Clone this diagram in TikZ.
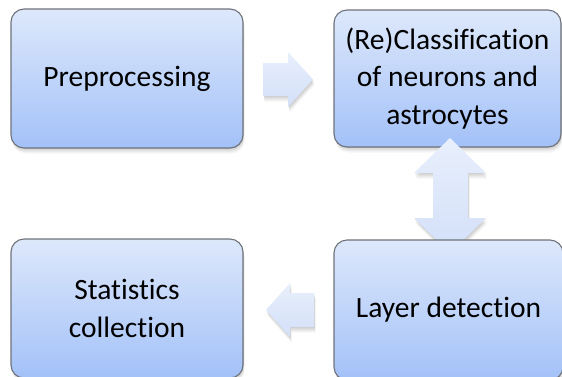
\documentclass[tikz,border=0pt]{standalone}
\usepackage{fontspec}
\setmainfont[Ligatures={NoCommon}]{Carlito}
\definecolor{boxtop}{RGB}{221,232,251}
\definecolor{boxbot}{RGB}{163,193,248}
\definecolor{boxline}{RGB}{110,114,122}
\definecolor{arrtop}{RGB}{232,239,252}
\definecolor{arrbot}{RGB}{211,224,249}
\tikzset{
  softshadow/.style={
    preaction={fill=black,opacity=.06,transform canvas={yshift=-1pt,xshift=0.5pt}},
    preaction={fill=black,opacity=.06,transform canvas={yshift=-2.5pt,xshift=1pt}},
    preaction={fill=black,opacity=.05,transform canvas={yshift=-4pt,xshift=1pt}},
    preaction={fill=black,opacity=.04,transform canvas={yshift=-5.5pt,xshift=1.5pt}}},
  stagebox/.style={draw=boxline, line width=1.1pt, rounded corners=13pt,
    top color=boxtop, bottom color=boxbot, softshadow,
    inner sep=0pt, align=center, font=\fontsize{29.5}{37.5}\selectfont},
  blockarrow/.style={top color=arrtop, bottom color=arrbot, softshadow}
}
\begin{document}
\begin{tikzpicture}[x=1pt,y=-1pt]
\useasboundingbox (0,0) rectangle (562,376);
\node[stagebox, minimum width=232pt, minimum height=139pt] (pre) at (127,78.5) {Preprocessing};
\node[stagebox, minimum width=227pt, minimum height=137pt] (cls) at (447.5,78.5) {(Re)Classification\\of neurons and\\astrocytes};
\path[blockarrow] (263,63) -- (288,63) -- (288,52) -- (313,79.5) -- (288,107) -- (288,96) -- (263,96) -- cycle;
\path[blockarrow] (450,138) -- (486,173) -- (468,173) -- (468,218) -- (486,218) -- (450,253)
  -- (414,218) -- (433,218) -- (433,173) -- (414,173) -- cycle;
\node[stagebox, minimum width=232pt, minimum height=139pt] (stat) at (127,308.5) {Statistics\\collection};
\path[blockarrow] (266,310) -- (290,283) -- (290,293) -- (314,293) -- (314,327) -- (290,327) -- (290,337) -- cycle;
\node[stagebox, minimum width=229pt, minimum height=140pt] (lay) at (448.5,310) {Layer detection};
\end{tikzpicture}
\end{document}
